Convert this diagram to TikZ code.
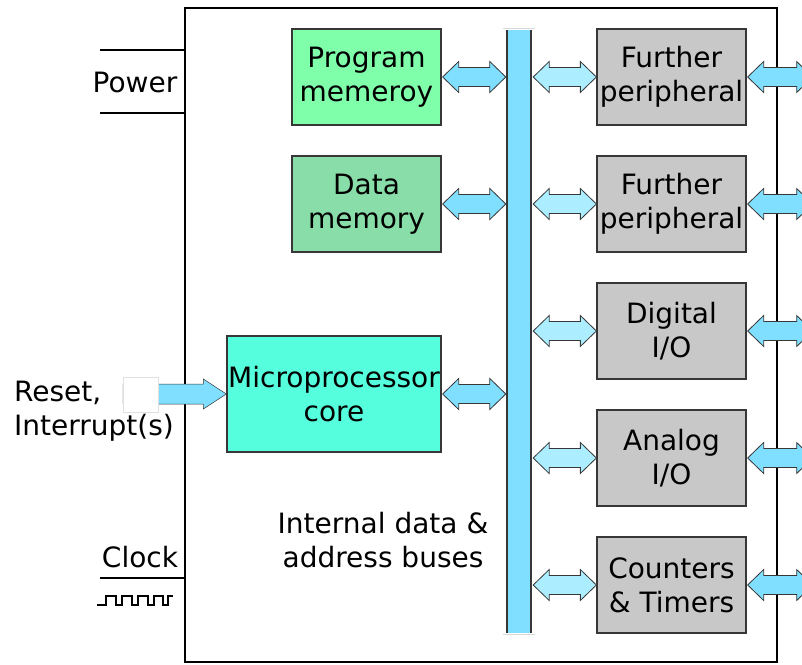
\documentclass[tikz,border=0pt]{standalone}
\usepackage{fontspec}
\setmainfont{DejaVu Sans}
\usetikzlibrary{calc}

\definecolor{busblue}{RGB}{128,223,255}
\definecolor{lightbus}{RGB}{172,238,255}
\definecolor{progmem}{RGB}{128,255,170}
\definecolor{datamem}{RGB}{136,221,168}
\definecolor{cpucol}{RGB}{85,255,221}
\definecolor{perigrey}{RGB}{200,200,200}
\definecolor{edge}{RGB}{55,55,55}

% block double arrow between two points (horizontal): #1 style, #2 from, #3 to
\newcommand\blockdarrow[3]{%
  \path[#1] let \p1=(#2), \p2=(#3) in
    (\x1,\y1) -- (\x1+16pt,\y1+15.5pt) -- (\x1+16pt,\y1+9.5pt)
    -- (\x2-16pt,\y1+9.5pt) -- (\x2-16pt,\y1+15.5pt) -- (\x2,\y1)
    -- (\x2-16pt,\y1-15.5pt) -- (\x2-16pt,\y1-9.5pt)
    -- (\x1+16pt,\y1-9.5pt) -- (\x1+16pt,\y1-15.5pt) -- cycle;}
% block single arrow from #2 to #3
\newcommand\blocksarrow[3]{%
  \path[#1] let \p1=(#2), \p2=(#3) in
    (\x1,\y1+10pt) -- (\x2-23pt,\y1+10pt) -- (\x2-23pt,\y1+15pt) -- (\x2,\y1)
    -- (\x2-23pt,\y1-15pt) -- (\x2-23pt,\y1-10pt) -- (\x1,\y1-10pt) -- cycle;}

\begin{document}
\begin{tikzpicture}[x=1pt,y=-1pt,
  lbl/.style={font=\fontsize{28}{34}\selectfont, align=center, inner sep=0pt},
  block/.style={lbl, draw=edge, line width=1.3pt, minimum width=149pt, minimum height=96pt},
  periph/.style={block, fill=perigrey},
  inarr/.style={fill=busblue, draw=edge, line width=0.8pt, line join=miter},
  outarr/.style={fill=lightbus, draw=edge, line width=0.8pt, line join=miter},
]
\useasboundingbox (0,0) rectangle (802,664);
\clip (0,0) rectangle (802,664);

% chip outline
\node[draw, line width=2pt, minimum width=592pt, minimum height=654pt, inner sep=0pt] (chip) at (481,335) {};

% internal bus
\draw[black!15, line width=0.8pt] (503,28.5) -- (535,28.5) (503,634.5) -- (535,634.5);
\node[fill=busblue, minimum width=24pt, minimum height=603pt, inner sep=0pt] (bus) at (519,331.5) {};
\draw[edge, line width=2pt] (bus.north west) -- (bus.south west)
                            (bus.north east) -- (bus.south east);

% memories and core
\node[block, fill=progmem] (pm) at (366.5,77) {Program\\memeroy};
\node[block, fill=datamem] (dm) at (366.5,204) {Data\\memory};
\node[block, fill=cpucol, minimum width=214pt, minimum height=116pt] (cpu) at (334,394) {Microprocessor\\core};

% peripherals
\node[periph] (p1) at (671.5,77)  {Further\\peripheral};
\node[periph] (p2) at (671.5,204) {Further\\peripheral};
\node[periph] (p3) at (671.5,331) {Digital\\I/O};
\node[periph] (p4) at (671.5,458) {Analog\\I/O};
\node[periph] (p5) at (671.5,585) {Counters\\\& Timers};

% bus connections
\foreach \m in {pm,dm,cpu}{
  \coordinate (a) at ($(\m.east)+(1,0)$);
  \coordinate (b) at ($(\m.east -| bus.west)+(-1,0)$);
  \blockdarrow{inarr}{a}{b}
}
\foreach \q in {p1,p2,p3,p4,p5}{
  \coordinate (a) at ($(\q.west -| bus.east)+(2,0)$);
  \coordinate (b) at (\q.west);
  \blockdarrow{outarr}{a}{b}
  \coordinate (c) at ($(\q.east)+(1,0)$);
  \coordinate (d) at ($(\q.east)+(66,0)$);
  \blockdarrow{inarr}{c}{d}
}

% reset / interrupt input
\coordinate (rst) at (123,394);
\coordinate (cpuin) at (cpu.west);
\blocksarrow{fill=busblue, draw=edge, line width=0.5pt, line join=miter}{rst}{cpuin}
\node[fill=white, draw=black!12, line width=0.8pt, minimum size=35pt, inner sep=0pt] (pad) at (140.5,394.5) {};
\node[lbl, align=left, anchor=west] (rsttxt) at (14,411) {Reset,\\Interrupt(s)};

% power pins
\coordinate (pw1) at (100,50);
\coordinate (pw2) at (100,113);
\draw[line width=2pt] (pw1) -- (pw1 -| chip.west) (pw2) -- (pw2 -| chip.west);
\node[lbl] (pwtxt) at (135,82) {Power};

% clock pin
\coordinate (clk) at (100,578);
\draw[line width=2pt] (clk) -- (clk -| chip.west);
\node[lbl] (clktxt) at (140,557) {Clock};
\draw[line width=1.6pt, line join=miter]
  (97,605) -- (106,605) -- (106,596) -- (116,596) -- (116,605) -- (122,605) -- (122,596)
  -- (132,596) -- (132,605) -- (138,605) -- (138,596) -- (148,596) -- (148,605)
  -- (154,605) -- (154,596) -- (163,596) -- (163,605) -- (168,605) -- (168,596) -- (173,596);

% bus caption
\node[lbl] (bustxt) at (383,540) {Internal data \&\\address buses};
\end{tikzpicture}
\end{document}
